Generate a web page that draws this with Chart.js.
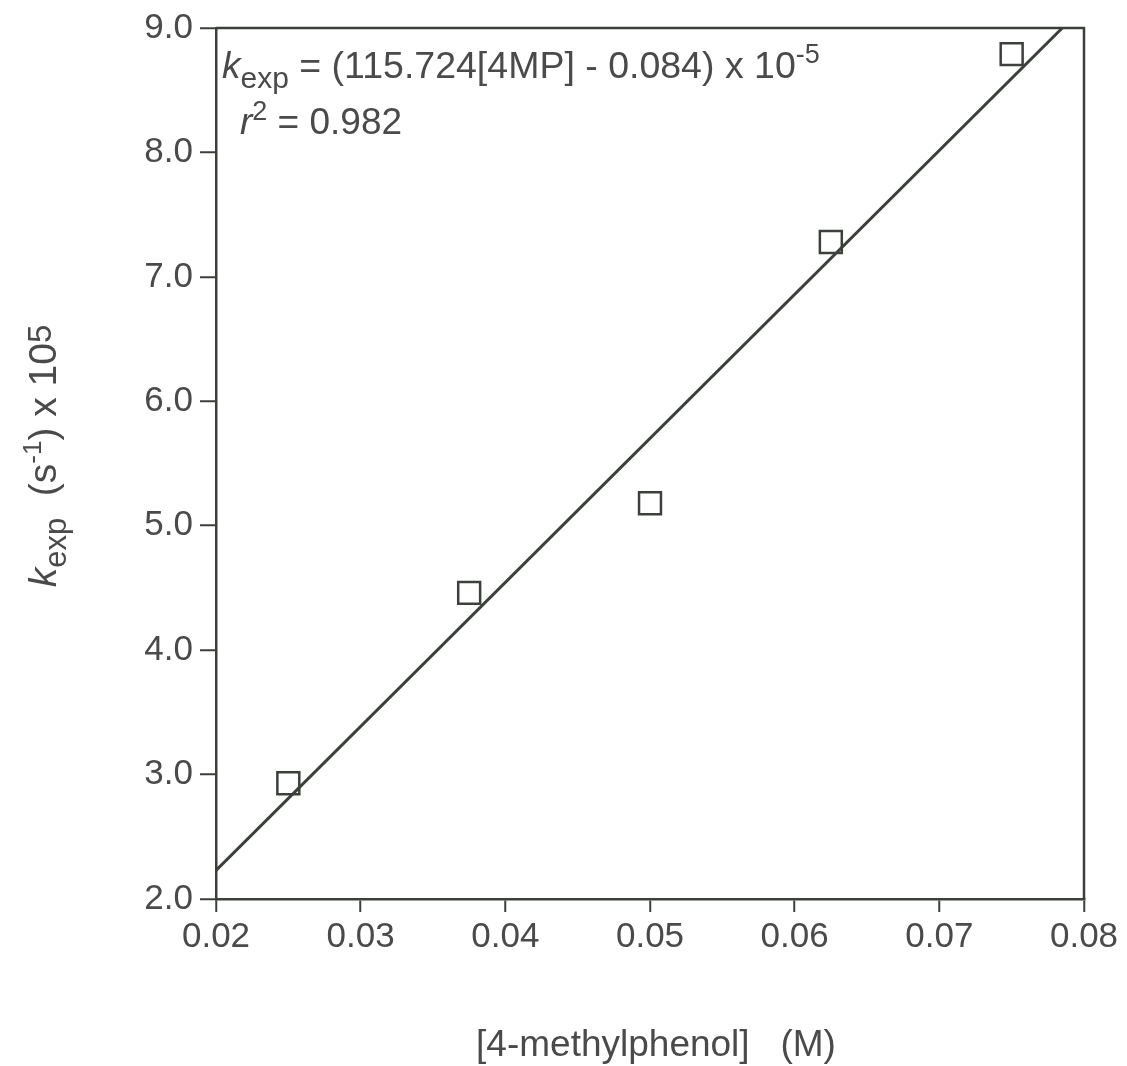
<!DOCTYPE html>
<html>
<head>
<meta charset="utf-8">
<script src="https://cdn.jsdelivr.net/npm/chart.js@4.4.1/dist/chart.umd.min.js"></script>
<style>
html,body{margin:0;padding:0;background:#fff;}
canvas{display:block;}
</style>
</head>
<body>
<canvas id="c" width="1127" height="1066"></canvas>
<script>
// ---- data ----
const concentrations = [0.025, 0.0375, 0.05, 0.0625, 0.075];
const kexpValues = [2.93, 4.46, 5.18, 7.28, 8.79];
const fitLineX = [0.02, 0.0785];
const fitLineY = [2.23, 9.0];
const xTickValues = [0.02, 0.03, 0.04, 0.05, 0.06, 0.07, 0.08];
const xTickLabels = ['0.02', '0.03', '0.04', '0.05', '0.06', '0.07', '0.08'];
const yTickValues = [2, 3, 4, 5, 6, 7, 8, 9];
const yTickLabels = ['2.0', '3.0', '4.0', '5.0', '6.0', '7.0', '8.0', '9.0'];
const xAxisTitle = '[4-methylphenol]   (M)';

const INK = '#3b403b';
const TEXT = '#4a4a4a';
const FONT = '"Liberation Sans", Arial, Helvetica, sans-serif';

function drawRich(ctx, segs, x, y, align) {
  let total = 0;
  segs.forEach(s => {
    ctx.font = (s.italic ? 'italic ' : '') + s.size + 'px ' + FONT;
    s.w = ctx.measureText(s.t).width;
    total += s.w;
  });
  let cx = align === 'center' ? x - total / 2 : x;
  ctx.textBaseline = 'alphabetic';
  ctx.textAlign = 'left';
  segs.forEach(s => {
    ctx.font = (s.italic ? 'italic ' : '') + s.size + 'px ' + FONT;
    ctx.fillText(s.t, cx, y + (s.dy || 0));
    cx += s.w;
  });
}

const decorPlugin = {
  id: 'decor',
  afterDatasetsDraw(chart) {
    const ctx = chart.ctx;
    const a = chart.chartArea;
    ctx.save();
    ctx.strokeStyle = INK;
    ctx.lineWidth = 2.5;
    ctx.beginPath();
    ctx.moveTo(a.left, a.top);
    ctx.lineTo(a.right, a.top);
    ctx.lineTo(a.right, a.bottom);
    ctx.stroke();
    ctx.fillStyle = TEXT;
    // equation annotation
    drawRich(ctx, [
      {t: 'k', size: 37, italic: true},
      {t: 'exp', size: 30, dy: 10},
      {t: ' = (115.724[4MP] - 0.084) x 10', size: 37.5},
      {t: '-5', size: 27, dy: -15}
    ], a.left + 6, 78);
    drawRich(ctx, [
      {t: 'r', size: 37, italic: true},
      {t: '2', size: 27, dy: -14},
      {t: ' = 0.982', size: 37}
    ], a.left + 24, 134);
    // x axis title
    drawRich(ctx, [{t: xAxisTitle, size: 37}], 656, 1056, 'center');
    // y axis title (rotated)
    ctx.translate(56, 456);
    ctx.rotate(-Math.PI / 2);
    drawRich(ctx, [
      {t: 'k', size: 39, italic: true},
      {t: 'exp', size: 31, dy: 10},
      {t: '  (s', size: 39},
      {t: '-1', size: 26, dy: -15},
      {t: ') x 10', size: 39},
      {t: '5', size: 33, dy: -5}
    ], 0, 0, 'center');
    ctx.restore();
  }
};

new Chart(document.getElementById('c'), {
  type: 'scatter',
  data: {
    datasets: [
      {
        label: 'fit',
        data: fitLineX.map((x, i) => ({x: x, y: fitLineY[i]})),
        showLine: true,
        borderColor: INK,
        borderWidth: 3,
        pointRadius: 0,
        fill: false
      },
      {
        label: 'kexp',
        data: concentrations.map((x, i) => ({x: x, y: kexpValues[i]})),
        pointStyle: 'rect',
        pointRadius: 15.5,
        pointBorderWidth: 2.5,
        pointBorderColor: INK,
        pointBackgroundColor: 'rgba(255,255,255,0)',
        showLine: false
      }
    ]
  },
  options: {
    responsive: false,
    animation: false,
    devicePixelRatio: 1,
    layout: {padding: {top: 26, right: 43, left: 0, bottom: 0}},
    plugins: {legend: {display: false}, tooltip: {enabled: false}},
    scales: {
      x: {
        type: 'linear',
        min: 0.02, max: 0.08,
        afterBuildTicks: s => { s.ticks = xTickValues.map(v => ({value: v})); },
        afterFit: s => { s.height = 167; },
        ticks: {
          callback: (v) => xTickLabels[xTickValues.findIndex(t => Math.abs(t - v) < 1e-9)],
          font: {size: 35, family: FONT},
          color: TEXT,
          padding: 4,
          maxRotation: 0,
          autoSkip: false
        },
        grid: {drawOnChartArea: false, tickLength: 13, color: INK, lineWidth: 2.5, tickWidth: 2},
        border: {display: true, color: INK, width: 2.5}
      },
      y: {
        type: 'linear',
        min: 2, max: 9,
        afterBuildTicks: s => { s.ticks = yTickValues.map(v => ({value: v})); },
        afterFit: s => { s.width = 216; },
        ticks: {
          callback: (v) => yTickLabels[yTickValues.findIndex(t => Math.abs(t - v) < 1e-9)],
          font: {size: 35, family: FONT},
          color: TEXT,
          padding: 7,
          autoSkip: false
        },
        grid: {drawOnChartArea: false, tickLength: 16, color: INK, lineWidth: 2.5, tickWidth: 2},
        border: {display: true, color: INK, width: 2.5}
      }
    }
  },
  plugins: [decorPlugin]
});
</script>
</body>
</html>
